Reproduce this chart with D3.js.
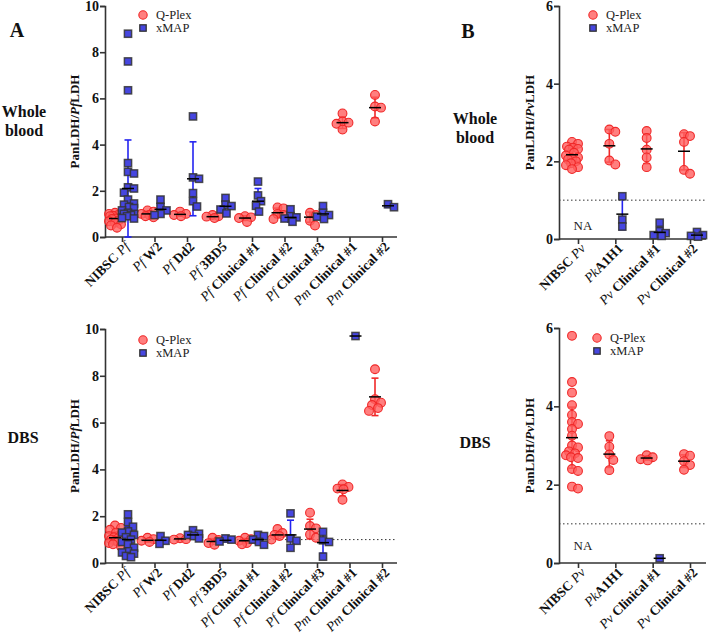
<!DOCTYPE html>
<html><head><meta charset="utf-8">
<script src="https://cdn.jsdelivr.net/npm/d3@7"></script>
<style>body{margin:0;background:#fff} svg{display:block}</style>
</head><body><svg id="c" width="708" height="633"></svg>
<script>
// ---------- DATA ----------
// "_x_" marks italic (species) parts; the rest is bold
const catsA = ["NIBSC _Pf_", "_Pf_ W2", "_Pf_ Dd2", "_Pf_ 3BD5", "_Pf_ Clinical #1", "_Pf_ Clinical #2", "_Pf_ Clinical #3", "_Pm_ Clinical #1", "_Pm_ Clinical #2"];
const catsB = ["NIBSC _Pv_", "_Pk_A1H1", "_Pv_ Clinical #1", "_Pv_ Clinical #2"];
const yTicksA = [0, 2, 4, 6, 8, 10];
const yTicksB = [0, 2, 4, 6];

// Panel A, whole blood
const wbQplexA = [
  [1.05,1.0,1.0,0.95,0.92,0.9,0.85,0.8,0.78,0.72,0.68,0.62,0.55,0.5,0.4],
  [1.15,1.1,1.0,0.95,0.9,0.85],
  [1.1,1.0,0.95,0.9],
  [0.95,0.9,0.88,0.82],
  [0.9,0.85,0.82,0.65],
  [1.28,1.24,1.0,0.95,0.78],
  [1.05,0.95,0.7,0.5],
  [5.35,5.0,4.95,4.9,4.65],
  [6.15,5.65,5.6,5.0]
];
const wbQplexMeanA = [0.8,1.0,0.98,0.88,0.82,1.05,0.86,4.95,5.6];
const wbQplexSdA   = [0.2,0.12,0.08,0.06,0.1,0.2,0.22,0.25,0.45];
const wbXmapA = [
  [8.8,7.6,6.35,3.2,2.82,2.75,2.15,2.1,1.92,1.62,1.45,1.4,1.3,1.25,1.15,1.05,1.0,1.0,0.95,0.9,0.82,0.8],
  [1.62,1.3,1.15,1.0,0.95],
  [5.22,2.58,2.52,1.9,1.55,1.32],
  [1.69,1.4,1.34,1.19,1.02],
  [2.4,1.8,1.55,1.35,1.1],
  [1.2,0.9,0.85,0.8,0.66],
  [1.34,1.05,0.95,0.88,0.78],
  [],
  [1.42,1.29]
];
const wbXmapMeanA = [2.1,1.2,2.52,1.33,1.55,0.85,1.0,null,1.35];
const wbXmapSdA   = [2.1,0.27,1.6,0.25,0.55,0.2,0.2,null,0.07];

// Panel A, DBS
const dbsQplexA = [
  [1.6,1.5,1.42,1.3,1.2,1.15,1.1,1.05,1.0,1.0,0.95,0.9,0.85,0.8,0.7],
  [1.08,1.02,0.95,0.9],
  [1.06,1.02,1.0],
  [1.08,0.98,0.85,0.78],
  [1.08,1.02,0.95,0.85,0.8],
  [1.45,1.28,1.2,1.15,1.0],
  [2.15,1.58,1.48,1.22,1.08],
  [3.36,3.25,3.18,3.15,2.7],
  [8.28,7.0,6.85,6.75,6.62,6.5]
];
const dbsQplexMeanA = [1.08,0.97,1.03,0.92,0.95,1.2,1.45,3.1,7.1];
const dbsQplexSdA   = [0.25,0.07,0.03,0.12,0.1,0.16,0.42,0.25,0.8];
const dbsXmapA = [
  [2.08,1.75,1.55,1.35,1.3,1.2,1.1,1.0,0.9,0.8,0.65,0.5,0.45,0.4,0.3,0.25],
  [1.15,0.95,0.82],
  [1.4,1.25,1.2,1.15,1.05],
  [1.05,1.0,0.92],
  [1.2,1.15,1.0,0.9,0.78],
  [2.12,1.05,0.95,0.65],
  [1.33,0.97,0.9,0.27],
  [9.7],
  []
];
const dbsXmapMeanA = [1.0,0.97,1.2,0.97,1.0,1.2,0.87,9.7,null];
const dbsXmapSdA   = [0.55,0.17,0.13,0.07,0.17,0.63,0.45,0,null];

// Panel B, whole blood
const wbQplexB = [
  [2.5,2.45,2.38,2.35,2.32,2.3,2.22,2.15,2.1,2.08,2.05,2.0,1.95,1.9,1.85,1.8],
  [2.82,2.76,2.45,2.02,1.92],
  [2.78,2.6,2.3,2.1,1.85],
  [2.7,2.65,2.5,1.78,1.68]
];
const wbQplexMeanB = [2.17,2.4,2.32,2.26];
const wbQplexSdB   = [0.2,0.42,0.38,0.48];
const wbXmapB = [[],[1.1,0.5,0.32],[0.42,0.2,0.15,0.1,0.08],[0.18,0.1,0.08,0.06]];
const wbXmapMeanB = [null,0.64,0.17,0.1];
const wbXmapSdB   = [null,0.4,0.13,0.05];

// Panel B, DBS
const dbsQplexB = [
  [5.8,4.62,4.35,4.03,3.78,3.6,3.55,3.42,3.25,3.0,2.95,2.85,2.8,2.75,2.7,2.68,2.4,2.35,1.95,1.9],
  [3.24,2.97,2.77,2.63,2.37],
  [2.75,2.7,2.65,2.62],
  [2.78,2.74,2.6,2.5,2.38]
];
const dbsQplexMeanB = [3.2,2.78,2.68,2.6];
const dbsQplexSdB   = [0.78,0.34,0.05,0.16];
const dbsXmapB = [[],[],[0.12],[]];
const dbsXmapMeanB = [null,null,0.12,null];
const dbsXmapSdB   = [null,null,0,null];

const legendLabels = ["Q-Plex", "xMAP"];

// ---------- DRAWING ----------
const svg = d3.select("#c");
const SERIF = "'Liberation Serif','Times New Roman',serif";
const RED_FILL = "rgba(255,95,95,0.8)", RED = "#f02828";
const BLUE_FILL = "#4646e0", BLUE = "#2424f0", SQ_STROKE = "#333";

function addRich(textSel, str) {
  str.split("_").forEach((p, k) => {
    const italic = k % 2 === 1;
    if (p.length) textSel.append("tspan").text(p)
      .attr("font-style", italic ? "italic" : "normal")
      .attr("font-weight", italic ? "normal" : "bold");
  });
}

function swarm(vals, cx, y, r, maxOff) {
  const pts = vals.map(v => ({v, y: y(v)})).sort((a, b) => a.y - b.y);
  const placed = [];
  const thr = r * 1.45;
  const offs = [0];
  for (let o = 1; o <= maxOff; o++) offs.push(o, -o);
  for (const p of pts) {
    let best = 0, bestD = -1;
    for (const o of offs) {
      const d = placed.length ? d3.min(placed, q => Math.hypot(q.x - (cx + o), q.y - p.y)) : Infinity;
      if (d >= thr) { best = o; bestD = Infinity; break; }
      if (d > bestD) { bestD = d; best = o; }
    }
    p.x = cx + best;
    placed.push(p);
  }
  return placed;
}

function panel(cfg) {
  const g = svg.append("g");
  const x = d3.scalePoint().domain(cfg.cats).range(cfg.xr);
  const y = d3.scaleLinear().domain([0, cfg.yMax]).range(cfg.yr);
  // axes
  const ya = g.append("g").attr("transform", `translate(${cfg.ax},0)`)
    .call(d3.axisLeft(y).tickValues(cfg.yTicks).tickSize(5).tickFormat(d3.format("d")));
  ya.select(".domain").attr("stroke", "#333").attr("stroke-width", 1.6);
  ya.selectAll(".tick line").attr("stroke", "#333").attr("stroke-width", 1.6);
  ya.selectAll(".tick text").attr("font-family", SERIF).attr("font-weight", "bold")
    .attr("font-size", 14).attr("fill", "#111").attr("x", -6);
  const xa = g.append("g").attr("transform", `translate(0,${cfg.yr[0]})`)
    .call(d3.axisBottom(x).tickSize(5).tickFormat(""));
  xa.select(".domain").attr("d", `M${cfg.ax},0H${cfg.axEnd}`).attr("stroke", "#333").attr("stroke-width", 1.6);
  xa.selectAll(".tick line").attr("stroke", "#333").attr("stroke-width", 1.6);
  // x labels
  cfg.cats.forEach(c => {
    const t = g.append("text").attr("font-family", SERIF).attr("font-size", 13.5).attr("fill", "#111")
      .attr("text-anchor", "end")
      .attr("transform", `translate(${x(c) + 5},${cfg.yr[0] + 7}) rotate(-45)`)
      .attr("dy", "0.35em");
    addRich(t, c);
  });
  // dotted reference line
  if (cfg.dotted) {
    g.append("line").attr("x1", cfg.ax).attr("x2", cfg.axEnd).attr("y1", y(1)).attr("y2", y(1))
      .attr("stroke", "#333").attr("stroke-width", 1).attr("stroke-dasharray", "1.5,2.5");
  }
  const r = 4.4, s = 7.2;
  function series(vals, means, sds, off, kind) {
    cfg.cats.forEach((c, i) => {
      const cx = x(c) + off;
      const m = means[i];
      if (m != null && sds[i] > 0) {
        const col = kind === "q" ? RED : BLUE;
        const y1 = y(Math.max(0, m - sds[i])), y2 = y(m + sds[i]);
        g.append("line").attr("x1", cx).attr("x2", cx).attr("y1", y1).attr("y2", y2).attr("stroke", col).attr("stroke-width", 1.6);
        [y1, y2].forEach(yy => g.append("line").attr("x1", cx - 3.5).attr("x2", cx + 3.5).attr("y1", yy).attr("y2", yy).attr("stroke", col).attr("stroke-width", 1.6));
      }
      const pts = swarm(vals[i], cx, y, r, 6);
      if (kind === "q") {
        g.selectAll(null).data(pts).join("circle").attr("cx", d => d.x).attr("cy", d => d.y).attr("r", r)
          .attr("fill", RED_FILL).attr("stroke", RED).attr("stroke-width", 1.1);
      } else {
        g.selectAll(null).data(pts).join("rect").attr("x", d => d.x - s / 2).attr("y", d => d.y - s / 2)
          .attr("width", s).attr("height", s)
          .attr("fill", BLUE_FILL).attr("stroke", SQ_STROKE).attr("stroke-width", 1.5).attr("stroke-opacity", 0.85);
      }
      if (m != null) {
        g.append("line").attr("x1", cx - 6).attr("x2", cx + 6).attr("y1", y(m)).attr("y2", y(m))
          .attr("stroke", "#000").attr("stroke-width", 1.5);
      }
    });
  }
  series(cfg.q, cfg.qm, cfg.qs, cfg.qOff, "q");
  series(cfg.xm, cfg.xmm, cfg.xms, cfg.xOff, "x");
  // legend
  const [lx, ly] = cfg.leg;
  g.append("circle").attr("cx", lx).attr("cy", ly).attr("r", 4.2).attr("fill", RED_FILL).attr("stroke", RED).attr("stroke-width", 1.1);
  g.append("rect").attr("x", lx - 3.2).attr("y", ly + 13 - 3.2).attr("width", 6.4).attr("height", 6.4)
    .attr("fill", BLUE_FILL).attr("stroke", SQ_STROKE).attr("stroke-width", 1.3);
  legendLabels.forEach((t, k) => g.append("text").attr("x", lx + 13).attr("y", ly + 13 * k + 4)
    .attr("font-family", SERIF).attr("font-size", 12.5).attr("fill", "#222").text(t));
  // y title
  const yt = g.append("text").attr("font-family", SERIF).attr("font-size", 13).attr("fill", "#111")
    .attr("text-anchor", "middle")
    .attr("transform", `translate(${cfg.titleX},${(cfg.yr[0] + cfg.yr[1]) / 2}) rotate(-90)`);
  yt.append("tspan").attr("font-weight", "bold").text("PanLDH/");
  yt.append("tspan").attr("font-weight", "bold").attr("font-style", "italic").text(cfg.sp);
  yt.append("tspan").attr("font-weight", "bold").text("LDH");
  if (cfg.na) {
    g.append("text").attr("x", cfg.na[0]).attr("y", cfg.na[1]).attr("text-anchor", "middle")
      .attr("font-family", SERIF).attr("font-size", 13).attr("fill", "#222").text("NA");
  }
}

panel({cats: catsA, xr: [122, 382], ax: 105, axEnd: 397, yr: [237, 6], yMax: 10, yTicks: yTicksA,
  q: wbQplexA, qm: wbQplexMeanA, qs: wbQplexSdA, xm: wbXmapA, xmm: wbXmapMeanA, xms: wbXmapSdA,
  qOff: -7, xOff: 6, dotted: false, leg: [143, 15], titleX: 79, sp: "Pf"});
panel({cats: catsA, xr: [122, 382], ax: 105, axEnd: 397, yr: [563, 329], yMax: 10, yTicks: yTicksA,
  q: dbsQplexA, qm: dbsQplexMeanA, qs: dbsQplexSdA, xm: dbsXmapA, xmm: dbsXmapMeanA, xms: dbsXmapSdA,
  qOff: -7, xOff: 6, dotted: true, leg: [143, 340], titleX: 79, sp: "Pf"});
panel({cats: catsB, xr: [578, 690], ax: 559, axEnd: 706, yr: [239, 6], yMax: 6, yTicks: yTicksB,
  q: wbQplexB, qm: wbQplexMeanB, qs: wbQplexSdB, xm: wbXmapB, xmm: wbXmapMeanB, xms: wbXmapSdB,
  qOff: -6, xOff: 7, dotted: true, leg: [593, 15], titleX: 534, sp: "Pv", na: [583, 230]});
panel({cats: catsB, xr: [578, 690], ax: 559, axEnd: 706, yr: [563, 328], yMax: 6, yTicks: yTicksB,
  q: dbsQplexB, qm: dbsQplexMeanB, qs: dbsQplexSdB, xm: dbsXmapB, xmm: dbsXmapMeanB, xms: dbsXmapSdB,
  qOff: -6, xOff: 7, dotted: true, leg: [597, 338], titleX: 534, sp: "Pv", na: [583, 550]});

// panel letters and row labels
const big = (t, xx, yy, size) => svg.append("text").attr("x", xx).attr("y", yy)
  .attr("font-family", SERIF).attr("font-weight", "bold").attr("font-size", size)
  .attr("text-anchor", "middle").attr("fill", "#111").text(t);
big("A", 17, 37, 20);
big("B", 468, 38, 20);
big("Whole", 24, 117, 16);
big("blood", 24, 136, 16);
big("DBS", 23, 443, 16);
big("Whole", 475, 124, 16);
big("blood", 475, 143, 16);
big("DBS", 475, 448, 16);
</script></body></html>
